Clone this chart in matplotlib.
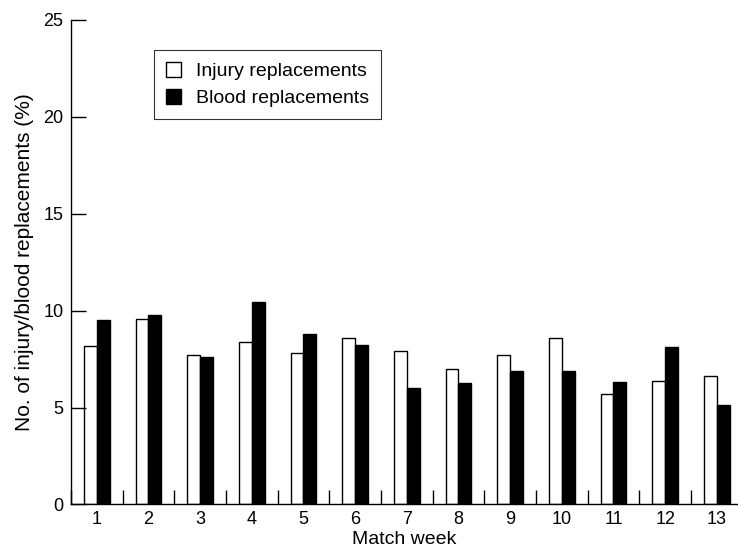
import matplotlib.pyplot as plt
import numpy as np

plt.rcParams['font.family'] = ['Liberation Sans', 'DejaVu Sans']

weeks = [1, 2, 3, 4, 5, 6, 7, 8, 9, 10, 11, 12, 13]
injury = [8.2, 9.55, 7.7, 8.4, 7.8, 8.6, 7.9, 7.0, 7.7, 8.6, 5.7, 6.35, 6.65]
blood = [9.5, 9.75, 7.6, 10.45, 8.8, 8.25, 6.0, 6.25, 6.9, 6.9, 6.3, 8.1, 5.15]

fig = plt.figure(figsize=(7.38, 5.54), dpi=100)
ax = fig.add_axes([0.0962, 0.0895, 0.9038, 0.8744])

x = np.array(weeks)
w = 0.25
ax.bar(x - w / 2, injury, w, color='white', edgecolor='black', linewidth=1.0,
       label='Injury replacements')
ax.bar(x + w / 2, blood, w, color='black', edgecolor='black', linewidth=1.0,
       label='Blood replacements')

ax.set_xlim(0.5, 13.41)
ax.set_ylim(0, 25)
ax.set_yticks([0, 5, 10, 15, 20, 25])
ax.set_xticks(weeks)
ax.set_xticks(np.arange(0.5, 13.5, 1.0), minor=True)

ax.tick_params(axis='y', direction='in', length=11, width=1, labelsize=13, pad=5.5)
ax.tick_params(axis='x', which='major', length=0, labelsize=13, pad=5)
ax.tick_params(axis='x', which='minor', direction='in', length=10, width=1)

for s in ['top', 'right']:
    ax.spines[s].set_visible(False)
for s in ['left', 'bottom']:
    ax.spines[s].set_linewidth(1.0)

ax.set_xlabel('Match week', fontsize=14, labelpad=2)
ax.set_ylabel('No. of injury/blood replacements (%)', fontsize=15, labelpad=7)

leg = ax.legend(loc='upper left', bbox_to_anchor=(0.1244, 0.938), fontsize=14,
                fancybox=False, edgecolor='black', handlelength=0.8,
                handleheight=0.8, handletextpad=0.75, borderpad=0.6,
                labelspacing=0.45, borderaxespad=0)
leg.get_frame().set_linewidth(0.8)

fig.savefig('out.png', dpi=100)
